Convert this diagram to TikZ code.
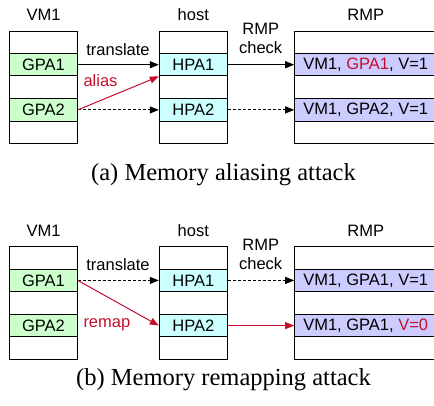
\documentclass[tikz,border=0pt]{standalone}
\usepackage{fontspec}
\setmainfont{Liberation Sans}
\newfontfamily\capfont{Liberation Serif}
\usetikzlibrary{arrows.meta}
\definecolor{gpagreen}{RGB}{204,255,204}
\definecolor{hpacyan}{RGB}{204,255,255}
\definecolor{rmpblue}{RGB}{204,204,255}
\definecolor{attackred}{RGB}{195,15,45}

\begin{document}
\begin{tikzpicture}[x=1pt, y=-1pt, ->, >={Triangle[length=9pt,width=7pt]}, line width=1pt,
        font=\fontsize{16.5}{19}\selectfont]
        \tikzstyle{column}=[draw=black, inner sep=0pt, minimum height=112.3pt]
        \tikzstyle{row}=[draw=black, inner sep=0pt, minimum height=22.5pt]
        \tikzstyle{title}=[anchor=base, inner sep=0pt]
        \tikzstyle{dashedge}=[dash pattern=on 3pt off 2pt]
        \tikzstyle{attack}=[draw=attackred]
        \tikzstyle{caption}=[anchor=base, inner sep=0pt, font=\capfont\fontsize{24.5}{27}\selectfont]

        \useasboundingbox (0,0) rectangle (434,405);
        \clip (0,0) rectangle (434,405);

        % (a) aliasing
        \node[title] (vmA) at (43.5,20.7) {VM1};
        \node[title] (hostA) at (193.3,20.7) {host};
        \node[title] (rmpA) at (365.7,20.7) {RMP};
        \node[column, minimum width=67.5pt] (colvmA) at (43.5,87.2) {};
        \node[column, minimum width=68pt] (colhostA) at (193.3,87.2) {};
        \node[column, minimum width=142pt] (colrmpA) at (365.7,87.2) {};
        \node[row, fill=gpagreen, minimum width=67.5pt] (gA1) at (43.5,64.7) {GPA1};
        \node[row, fill=gpagreen, minimum width=67.5pt] (gA2) at (43.5,109.9) {GPA2};
        \node[row, fill=hpacyan, minimum width=68pt] (hA1) at (193.3,64.7) {HPA1};
        \node[row, fill=hpacyan, minimum width=68pt] (hA2) at (193.3,109.9) {HPA2};
        \node[row, fill=rmpblue, minimum width=142pt] (rA1) at (365.7,64.7) {VM1, \textcolor{attackred}{GPA1}, V=1};
        \node[row, fill=rmpblue, minimum width=142pt] (rA2) at (365.7,109.9) {VM1, GPA2, V=1};
        \node[title] (transA) at (118,55) {translate};
        \node[title, align=center] (checkA) at (260.7,53.3) {RMP\\check};
        \node[title, anchor=base west, text=attackred] (alias) at (83,86.7) {alias};

        \draw (gA1) -- (hA1);
        \draw[dashedge] (gA2) -- (hA2);
        \draw[attack] (gA2.east) -- (hA1.south west);
        \draw (hA1) -- (rA1);
        \draw[dashedge] (hA2) -- (rA2);

        \node[caption] (capA) at (223.5,180.5) {(a) Memory aliasing attack};

        % (b) remapping
        \node[title] (vmB) at (43.5,236.4) {VM1};
        \node[title] (hostB) at (193.3,236.4) {host};
        \node[title] (rmpB) at (365.7,236.4) {RMP};
        \node[column, minimum width=67.5pt] (colvmB) at (43.5,302.9) {};
        \node[column, minimum width=68pt] (colhostB) at (193.3,302.9) {};
        \node[column, minimum width=142pt] (colrmpB) at (365.7,302.9) {};
        \node[row, fill=gpagreen, minimum width=67.5pt] (gB1) at (43.5,280.4) {GPA1};
        \node[row, fill=gpagreen, minimum width=67.5pt] (gB2) at (43.5,325.6) {GPA2};
        \node[row, fill=hpacyan, minimum width=68pt] (hB1) at (193.3,280.4) {HPA1};
        \node[row, fill=hpacyan, minimum width=68pt] (hB2) at (193.3,325.6) {HPA2};
        \node[row, fill=rmpblue, minimum width=142pt] (rB1) at (365.7,280.4) {VM1, GPA1, V=1};
        \node[row, fill=rmpblue, minimum width=142pt] (rB2) at (365.7,325.6) {VM1, GPA1, \textcolor{attackred}{V=0}};
        \node[title] (transB) at (118,270.7) {translate};
        \node[title, align=center] (checkB) at (260.7,269.3) {RMP\\check};
        \node[title, anchor=base west, text=attackred] (remap) at (83,327.3) {remap};

        \draw[dashedge] (gB1) -- (hB1);
        \draw[attack] (gB1.east) -- (hB2.west);
        \draw[dashedge] (hB1) -- (rB1);
        \draw[attack] (hB2) -- (rB2);

        \node[caption] (capB) at (223.5,385) {(b) Memory remapping attack};
    \end{tikzpicture}
\end{document}
